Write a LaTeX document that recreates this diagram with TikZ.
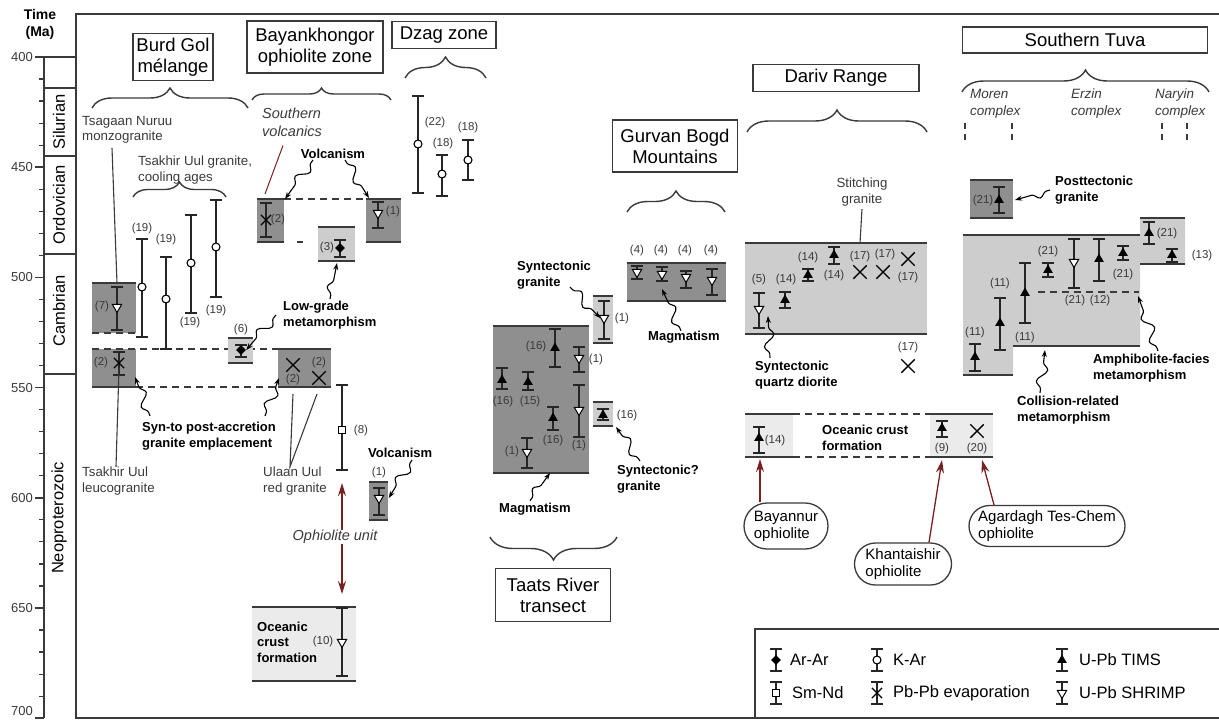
\documentclass[tikz,border=0pt]{standalone}
\usepackage{fontspec}
\setmainfont{Liberation Sans}
\usetikzlibrary{arrows.meta,shapes.geometric,shapes.misc}
\usetikzlibrary{decorations.pathreplacing}
\usetikzlibrary{decorations.pathmorphing}

\definecolor{ln}{HTML}{3A3A3A}
\definecolor{dk}{HTML}{8F8F8F}
\definecolor{lt}{HTML}{CDCDCD}
\definecolor{pale}{HTML}{EBEBEB}
\definecolor{oph}{HTML}{7A2020}

\tikzset{ttl/.style={draw=ln, line width=1.5pt, fill=white, align=center, inner sep=2pt, font=\fontsize{18.5}{21}\selectfont}}
\tikzset{num/.style={inner sep=0pt, text=ln, font=\fontsize{11.5}{13}\selectfont}}
\tikzset{lab/.style={inner sep=0pt, align=left, text=ln, font=\fontsize{13.3}{15.5}\selectfont}}
\tikzset{bld/.style={inner sep=0pt, align=left, font=\bfseries\fontsize{13}{15.5}\selectfont}}
\tikzset{itl/.style={inner sep=0pt, align=left, text=ln, font=\itshape\fontsize{14.5}{18}\selectfont}}
\tikzset{leg/.style={inner sep=0pt, anchor=west, font=\fontsize{16.5}{18}\selectfont}}
\tikzset{per/.style={rotate=90, inner sep=0pt, font=\fontsize{16.5}{18}\selectfont}}
\tikzset{pill/.style={rounded rectangle, draw=ln, line width=1.3pt, fill=white, align=left, inner sep=2pt, font=\fontsize{15}{17}\selectfont}}
\tikzset{rim/.style={draw=ln, line width=1.6pt}}
\tikzset{lk/.style={draw=ln, line width=1.1pt}}
\tikzset{dsh/.style={draw=ln, line width=1.6pt, dash pattern=on 7pt off 5pt}}
\tikzset{bar/.style={draw=black!85, line width=1.5pt}}
\tikzset{brc/.style={draw=ln, line width=1.4pt, decorate, decoration={brace, amplitude=#1}}}
\tikzset{wig/.style={draw=black, line width=1.1pt, -{Stealth[length=7pt,width=5pt]}, decorate, decoration={snake, segment length=24pt, amplitude=5pt, pre length=4pt, post length=8pt}}}
\tikzset{opharr/.style={draw=oph, line width=1.3pt, -{Stealth[length=13pt,width=8pt]}}}
% age markers
\tikzset{tims/.style={regular polygon, regular polygon sides=3, fill=black, inner sep=0pt, minimum size=11pt}}
\tikzset{shrimp/.style={regular polygon, regular polygon sides=3, shape border rotate=180, draw=black, line width=1pt, fill=white, inner sep=0pt, minimum size=11pt}}
\tikzset{arar/.style={diamond, fill=black, inner sep=0pt, minimum size=10pt}}
\tikzset{kar/.style={circle, draw=black, line width=1.1pt, fill=white, inner sep=0pt, minimum size=8pt}}
\tikzset{smnd/.style={rectangle, draw=black, line width=1.1pt, fill=white, inner sep=0pt, minimum size=7pt}}
\tikzset{pbpb/.style={cross out, draw=black, line width=1.2pt, inner sep=0pt, minimum size=9pt}}
\tikzset{xmk/.style={cross out, draw=black, line width=1.4pt, inner sep=0pt, minimum size=12pt}}

% name, marker, x, top, marker y, bottom
\newcommand{\agebar}[6]{%
  \draw[bar] (#3-6,#4) -- (#3+6,#4) (#3,#4) -- (#3,#6) (#3-6,#6) -- (#3+6,#6);
  \node[#2] (#1) at (#3,#5) {};}
% fill, x1, y1, x2, y2
\newcommand{\shbox}[5]{%
  \fill[#1] (#2,#3) rectangle (#4,#5);
  \draw[rim] (#2,#3) -- (#4,#3) (#2,#5) -- (#4,#5);}

\begin{document}
\begin{tikzpicture}[x=1pt,y=-1pt]
\useasboundingbox (0,0) rectangle (1219,720);

% frame and time scale
\draw[rim] (1219,14) -- (76,14) -- (76,718) -- (1219,718);
\draw[rim] (44,718) -- (44,57);
\draw[rim] (35,57) -- (76,57);
\foreach \yy in {88,156,254,374} \draw[rim] (44,\yy) -- (76,\yy);
\foreach \t in {410,420,...,700} {
  \pgfmathsetmacro{\yy}{57+(\t-400)*2.204}
  \draw[rim, line width=1.2pt] (39,\yy) -- (44,\yy);
}
\foreach \t in {450,500,...,700} {
  \pgfmathsetmacro{\yy}{57+(\t-400)*2.204}
  \draw[rim] (35,\yy) -- (44,\yy);
}
\foreach \t in {400,450,...,650} {
  \pgfmathsetmacro{\yy}{57+(\t-400)*2.204}
  \node[num, anchor=east, font=\fontsize{13}{15}\selectfont] (ax\t) at (33,\yy) {\t};
}
\node[num, anchor=east, font=\fontsize{13}{15}\selectfont] (ax700) at (33,711) {700};
\node[font=\bfseries\fontsize{14}{17}\selectfont, align=center, inner sep=0pt] (time) at (40,24) {Time\\(Ma)};
\node[per] (sil) at (59,122) {Silurian};
\node[per] (ord) at (59,205) {Ordovician};
\node[per] (cam) at (59,311) {Cambrian};
\node[per] (neo) at (59,518) {Neoproterozoic};

% titles and braces
\node[ttl, minimum width=80pt, minimum height=47pt] (burd) at (173,57) {Burd Gol\\mélange};
\node[ttl, minimum width=136pt, minimum height=52pt] (bayk) at (315,47) {Bayankhongor\\ophiolite zone};
\node[ttl, minimum width=104pt, minimum height=27pt] (dzag) at (444,35) {Dzag zone};
\node[ttl, minimum width=125pt, minimum height=52pt] (gurv) at (675,146) {Gurvan Bogd\\Mountains};
\node[ttl, minimum width=166pt, minimum height=27pt] (dariv) at (836,78) {Dariv Range};
\node[ttl, minimum width=245pt, minimum height=26pt] (tuva) at (1085,40) {Southern Tuva};
\node[ttl, minimum width=115pt, minimum height=53pt] (taats) at (553,595) {Taats River\\transect};
\draw[brc=20pt] (92,108) -- (248,108);
\draw[brc=12pt] (252,100) -- (391,100);
\draw[brc=21pt] (405,78) -- (486,78);
\draw[brc=21pt] (627,212) -- (725,212);
\draw[brc=22pt] (747,132) -- (927,132);
\draw[brc=22pt] (962,92) -- (1209,92);
\draw[brc=23pt] (617,537) -- (490,537);
\draw[brc=15pt] (133,197) -- (226,197);

% Burd Gol melange
\fill[dk] (92,283) rectangle (136,333);
\fill[dk] (92,349) rectangle (136,387);
\fill[dk] (278,349) rectangle (331,387);
\draw[rim] (92,283) -- (136,283);
\draw[dsh] (92,333) -- (136,333);
\draw[dsh] (92,349) -- (278,349);
\draw[rim] (92,387) -- (136,387);
\draw[dsh] (136,387) -- (278,387);
\draw[rim] (278,349) -- (331,349) (278,387) -- (331,387);
\shbox{lt}{228}{338}{253}{363}
\agebar{bg7}{shrimp}{117}{287}{307}{330}
\node[num] (bg7n) at (102,307) {(7)};
\agebar{bg2}{pbpb}{119}{352}{363}{375}
\node[num] (bg2n) at (101,363) {(2)};
\node[xmk] (uu1) at (293,365) {};
\node[num] (uu1n) at (319,363) {(2)};
\node[num] (uu2n) at (293,380) {(2)};
\node[xmk] (uu2) at (319,378) {};
\agebar{tu1}{kar}{142}{239}{287}{337}
\node[num] (tu1n) at (142,229) {(19)};
\agebar{tu2}{kar}{166}{257}{299}{349}
\node[num] (tu2n) at (166,240) {(19)};
\agebar{tu3}{kar}{191}{215}{263}{313}
\node[num] (tu3n) at (190,323) {(19)};
\agebar{tu4}{kar}{216}{200}{247}{297}
\node[num] (tu4n) at (216,311) {(19)};
\agebar{bk6}{arar}{241}{345}{350}{357}
\node[num] (bk6n) at (241,330) {(6)};
\node[lab, anchor=west] (tsag) at (82,130) {Tsagaan Nuruu\\monzogranite};
\node[lab, anchor=west] (tsak) at (138,170) {Tsakhir Uul granite,\\cooling ages};
\node[lab, anchor=west] (leuco) at (82,481) {Tsakhir Uul\\leucogranite};
\node[lab, anchor=west] (ulaan) at (263,481) {Ulaan Uul\\red granite};
\node[bld, anchor=west] (syn) at (142,436) {Syn-to post-accretion\\granite emplacement};
\node[bld, anchor=west] (lowg) at (283,315) {Low-grade\\metamorphism};
\draw[lk] ([xshift=30pt,yshift=-4pt]tsag.south west) -- (117,283);
\draw[lk] (bg2.south) -- ([xshift=34pt]leuco.north west);
\draw[lk] (293,394) -- ([xshift=27pt]ulaan.north west) -- (317,394);
\coordinate (bgtip) at (135,377);
\coordinate (uutip) at (279,378);
\coordinate (by3foot) at (337,263);
\draw[wig] ([xshift=8pt,yshift=6pt]syn.north west) -- (bgtip);
\draw[wig] ([xshift=123pt,yshift=6pt]syn.north west) -- (uutip);
\draw[wig] ([xshift=-7pt]lowg.west) -- (bk6.east);
\draw[wig] ([xshift=47pt,yshift=2pt]lowg.north west) -- (by3foot);

% Bayankhongor ophiolite zone
\shbox{dk}{257}{199}{284}{242}
\shbox{dk}{366}{199}{401}{242}
\draw[dsh] (284,199) -- (366,199);
\draw[rim] (297,242) -- (303,242);
\shbox{lt}{318}{227}{355}{261}
\shbox{dk}{369}{482}{388}{520}
\shbox{pale}{252}{607}{356}{681}
\agebar{by2}{pbpb}{266}{203}{220}{237}
\node[num] (by2n) at (278,220) {(2)};
\agebar{by1}{shrimp}{378}{202}{213}{228}
\node[num] (by1n) at (393,212) {(1)};
\agebar{by3}{arar}{340}{240}{248}{257}
\node[num] (by3n) at (327,248) {(3)};
\agebar{by1b}{shrimp}{379}{488}{498}{515}
\node[num] (by1bn) at (379,473) {(1)};
\agebar{by8}{smnd}{342}{385}{430}{470}
\node[num] (by8n) at (361,431) {(8)};
\agebar{oc10}{shrimp}{342}{608}{642}{676}
\node[num] (oc10n) at (323,642) {(10)};
\node[itl, anchor=west] (svol) at (262,122) {Southern\\volcanics};
\node[bld] (volc) at (333,154) {Volcanism};
\node[bld, anchor=west] (volc2) at (368,453) {Volcanism};
\node[bld, anchor=west] (ocr) at (257,642) {Oceanic\\crust\\formation};
\node[itl] (oph) at (335,537) {Ophiolite unit};
\draw[draw=oph, line width=1pt] ([xshift=21pt,yshift=-9pt]svol.south west) -- (265,194);
\coordinate (by2tip) at (285,199);
\coordinate (by1tip) at (369,198);
\draw[wig] ([xshift=-20pt,yshift=-1pt]volc.south) -- (by2tip);
\draw[wig] ([xshift=12pt,yshift=-1pt]volc.south) -- (by1tip);
\draw[wig] ([xshift=44pt,yshift=-2pt]volc2.south west) -- ([xshift=6pt]by1b.east);
\coordinate (ophtop) at (342,483);
\coordinate (ophbot) at (342,594);
\draw[opharr] (oph.north -| ophtop) -- (ophtop);
\draw[opharr] (oph.south -| ophbot) -- (ophbot);

% Dzag zone
\agebar{dz22}{kar}{418}{96}{144}{193}
\node[num] (dz22n) at (435,123) {(22)};
\agebar{dz18a}{kar}{442}{155}{174}{196}
\node[num] (dz18an) at (443,144) {(18)};
\agebar{dz18b}{kar}{468}{140}{160}{180}
\node[num] (dz18bn) at (468,128) {(18)};

% Gurvan Bogd Mountains
\shbox{dk}{627}{263}{726}{301}
\agebar{gb1}{shrimp}{637}{266}{272}{279}
\agebar{gb2}{shrimp}{662}{267}{274}{281}
\agebar{gb3}{shrimp}{686}{271}{277}{288}
\agebar{gb4}{shrimp}{712}{269}{280}{295}
\foreach \xx [count=\i] in {637,661,685,711} \node[num] (gb\i n) at (\xx,251) {(4)};
\node[bld] (gmag) at (684,337) {Magmatism};
\coordinate (gbtip) at (662,289);
\draw[wig] ([xshift=-3pt]gmag.north) -- (gbtip);

% Taats River transect
\shbox{dk}{493}{326}{589}{473}
\shbox{lt}{593}{296}{613}{343}
\shbox{lt}{593}{402}{613}{426}
\agebar{ta1}{tims}{555}{329}{348}{367}
\node[num] (ta1n) at (536,347) {(16)};
\agebar{ta2}{shrimp}{579}{347}{358}{372}
\node[num] (ta2n) at (596,360) {(1)};
\agebar{ta3}{tims}{502}{368}{380}{389}
\node[num] (ta3n) at (503,402) {(16)};
\agebar{ta4}{tims}{528}{372}{382}{390}
\node[num] (ta4n) at (530,402) {(15)};
\agebar{ta5}{shrimp}{579}{385}{410}{437}
\node[num] (ta5n) at (579,446) {(1)};
\agebar{ta6}{tims}{553}{407}{418}{430}
\node[num] (ta6n) at (553,441) {(16)};
\agebar{ta7}{shrimp}{527}{438}{452}{468}
\node[num] (ta7n) at (512,452) {(1)};
\agebar{ta8}{shrimp}{604}{301}{318}{339}
\node[num] (ta8n) at (622,319) {(1)};
\agebar{ta9}{tims}{603}{409}{415}{420}
\node[num] (ta9n) at (627,416) {(16)};
\node[bld, anchor=west] (sgran) at (517,275) {Syntectonic\\granite};
\node[bld, anchor=west] (sgq) at (617,479) {Syntectonic?\\granite};
\node[bld] (tmag) at (535,509) {Magmatism};
\coordinate (ta9tip) at (616,427);
\coordinate (tatip) at (550,473);
\draw[wig] ([xshift=53pt,yshift=2pt]sgran.south west) -- (ta8.west);
\draw[wig] ([xshift=23pt,yshift=4pt]sgq.north west) -- (ta9tip);
\draw[wig] ([xshift=-5pt,yshift=2pt]tmag.north) -- (tatip);

% Dariv Range
\shbox{lt}{745}{243}{927}{334}
\agebar{dv5}{shrimp}{759}{293}{309}{328}
\node[num] (dv5n) at (759,280) {(5)};
\agebar{dv14a}{tims}{785}{292}{300}{308}
\node[num] (dv14an) at (786,280) {(14)};
\agebar{dv14b}{tims}{808}{269}{275}{281}
\node[num] (dv14bn) at (808,258) {(14)};
\agebar{dv14c}{tims}{834}{247}{255}{264}
\node[num] (dv14cn) at (834,276) {(14)};
\node[xmk] (dv17a) at (860,272) {};
\node[num] (dv17an) at (860,257) {(17)};
\node[xmk] (dv17b) at (883,272) {};
\node[num] (dv17bn) at (885,255) {(17)};
\node[xmk] (dv17c) at (908,259) {};
\node[num] (dv17cn) at (908,278) {(17)};
\node[xmk] (dv17d) at (908,366) {};
\node[num] (dv17dn) at (908,348) {(17)};
\node[lab, align=center] (stitch) at (862,192) {Stitching\\granite};
\coordinate (stitchfoot) at (860,243);
\draw[lk] ([yshift=-3pt]stitch.south) -- (stitchfoot);
\node[bld, anchor=west] (sqd) at (755,375) {Syntectonic\\quartz diorite};
\coordinate (dv5tip) at (768,316);
\draw[wig] ([xshift=15pt,yshift=3pt]sqd.north west) -- (dv5tip);
% oceanic crust row
\shbox{pale}{745}{414}{793}{457}
\shbox{pale}{930}{414}{993}{457}
\draw[dsh] (793,414) -- (930,414) (793,457) -- (930,457);
\agebar{dv14d}{tims}{759}{427}{438}{453}
\node[num] (dv14dn) at (775,441) {(14)};
\agebar{dv9}{tims}{942}{421}{428}{437}
\node[num] (dv9n) at (942,449) {(9)};
\node[xmk] (dv20) at (977,431) {};
\node[num] (dv20n) at (977,449) {(20)};
\node[bld, anchor=west] (ocr2) at (822,438) {Oceanic crust\\formation};
\node[pill, minimum width=88pt, minimum height=46pt] (bay) at (786,526) {Bayannur\\ophiolite};
\node[pill, minimum width=101pt, minimum height=42pt] (kha) at (903,564) {Khantaishir\\ophiolite};
\node[pill, minimum width=160pt, minimum height=41pt] (aga) at (1047,526) {Agardagh Tes-Chem\\ophiolite};
\coordinate (baytip) at (760,459);
\coordinate (khatip) at (942,460);
\coordinate (agatip) at (982,460);
\draw[opharr] (bay.north -| baytip) -- (baytip);
\draw[opharr] (kha.north -| 929,0) -- (khatip);
\draw[opharr] (aga.north -| 994,0) -- (agatip);

% Southern Tuva
\node[itl, anchor=west, font=\itshape\fontsize{13.5}{17}\selectfont] (moren) at (970,104) {Moren\\complex};
\node[itl, anchor=west, font=\itshape\fontsize{13.5}{17}\selectfont] (erzin) at (1071,104) {Erzin\\complex};
\node[itl, anchor=west, font=\itshape\fontsize{13.5}{17}\selectfont] (naryin) at (1155,104) {Naryin\\complex};
\foreach \xx in {965,1012,1162,1187} \draw[draw=ln, line width=1.2pt, dash pattern=on 6pt off 5pt] (\xx,123) -- (\xx,142);
\shbox{dk}{970}{180}{1013}{218}
\fill[lt] (963,235) -- (1140,235) -- (1140,218) -- (1185,218) -- (1185,264) -- (1140,264)
  -- (1140,346) -- (1013,346) -- (1013,375) -- (963,375) -- cycle;
\draw[rim] (963,235) -- (1140,235) (1140,218) -- (1185,218) (1140,264) -- (1185,264)
  (1013,346) -- (1140,346) (963,375) -- (1013,375);
\draw[dsh] (1038,292) -- (1139,292);
\agebar{tv21a}{tims}{999}{187}{200}{213}
\node[num] (tv21an) at (983,201) {(21)};
\agebar{tv11a}{tims}{975}{344}{357}{371}
\node[num] (tv11an) at (975,333) {(11)};
\agebar{tv11b}{tims}{1000}{298}{323}{350}
\node[num] (tv11bn) at (1000,284) {(11)};
\agebar{tv11c}{tims}{1025}{263}{293}{323}
\node[num] (tv11cn) at (1025,338) {(11)};
\agebar{tv21b}{tims}{1048}{263}{270}{277}
\node[num] (tv21bn) at (1048,252) {(21)};
\agebar{tv21c}{shrimp}{1074}{239}{262}{288}
\node[num] (tv21cn) at (1075,301) {(21)};
\agebar{tv12}{tims}{1099}{239}{259}{281}
\node[num] (tv12n) at (1100,301) {(12)};
\agebar{tv21d}{tims}{1123}{246}{253}{260}
\node[num] (tv21dn) at (1123,275) {(21)};
\agebar{tv21e}{tims}{1149}{222}{233}{244}
\node[num] (tv21en) at (1167,234) {(21)};
\agebar{tv13}{tims}{1172}{249}{255}{262}
\node[num] (tv13n) at (1202,256) {(13)};
\node[bld, anchor=west] (post) at (1055,190) {Posttectonic\\granite};
\node[bld, anchor=west] (amph) at (1093,368) {Amphibolite-facies\\metamorphism};
\node[bld, anchor=west] (coll) at (1017,410) {Collision-related\\metamorphism};
\coordinate (posttip) at (1015,200);
\coordinate (amphtip) at (1138,296);
\coordinate (colltip) at (1045,350);
\draw[wig] ([xshift=-5pt]post.west) -- (posttip);
\draw[wig] ([xshift=65pt,yshift=3pt]amph.north west) -- (amphtip);
\draw[wig] ([xshift=23pt,yshift=3pt]coll.north west) -- (colltip);

% legend
\draw[rim] (755,718) -- (755,629) -- (1219,629);
\agebar{lgar}{arar}{776}{649}{660}{671}
\node[leg] (lgart) at (790,660) {Ar-Ar};
\agebar{lgka}{kar}{877}{649}{660}{671}
\node[leg] (lgkat) at (893,660) {K-Ar};
\agebar{lgti}{tims}{1062}{649}{660}{671}
\node[leg] (lgtit) at (1079,660) {U-Pb TIMS};
\agebar{lgsm}{smnd}{776}{682}{693}{704}
\node[leg] (lgsmt) at (792,693) {Sm-Nd};
\agebar{lgpb}{pbpb}{877}{682}{693}{704}
\node[leg] (lgpbt) at (893,693) {Pb-Pb evaporation};
\agebar{lgsh}{shrimp}{1062}{682}{693}{704}
\node[leg] (lgsht) at (1079,693) {U-Pb SHRIMP};
\end{tikzpicture}
\end{document}
